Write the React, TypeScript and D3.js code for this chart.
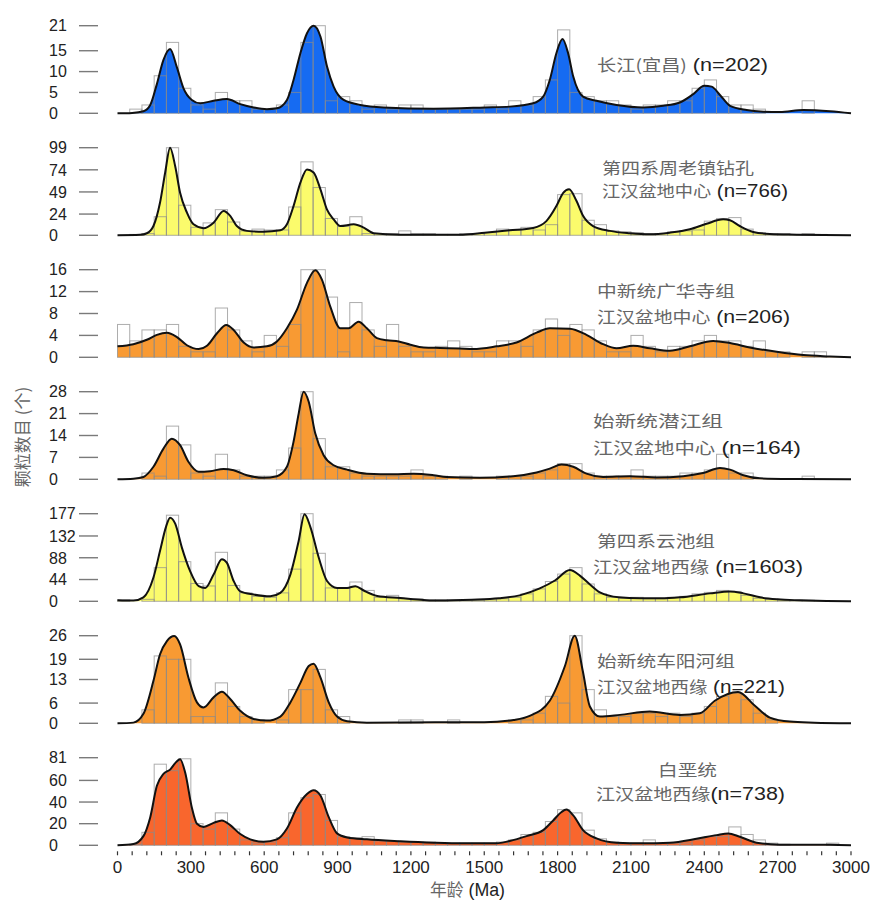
import React from 'react';
import * as d3 from 'd3';

// histogram counts in 50 Ma bins (0-50, 50-100, ... 2950-3000)
const yangtzeBars = [
  0, 1, 2, 9, 17, 6, 2, 1, 5, 3, 3, 1, 1, 2, 5, 17, 21, 3, 4, 3,
  1, 2, 1, 2, 2, 1, 1, 1, 1, 1, 2, 1, 3, 2, 4, 8, 20, 5, 4, 3,
  3, 2, 1, 2, 2, 3, 3, 6, 8, 4, 2, 2, 1, 0, 0, 0, 3, 0, 0, 0,
];
const zhoulaoBars = [
  0, 1, 2, 21, 99, 34, 9, 14, 29, 15, 5, 7, 6, 6, 32, 83, 54, 19, 10, 21,
  2, 2, 2, 5, 2, 2, 1, 1, 2, 2, 3, 7, 6, 9, 6, 12, 46, 47, 17, 12,
  5, 4, 3, 2, 2, 4, 5, 6, 16, 19, 20, 7, 3, 2, 2, 1, 2, 1, 0, 0,
];
const guanghuaBars = [
  6, 3, 5, 5, 6, 2, 1, 1, 9, 5, 3, 1, 4, 2, 6, 16, 16, 11, 1, 10,
  5, 2, 6, 2, 1, 1, 2, 3, 2, 1, 1, 3, 3, 2, 5, 7, 4, 6, 5, 3,
  1, 1, 4, 2, 1, 2, 2, 3, 4, 3, 3, 2, 3, 1, 1, 0, 1, 1, 0, 0,
];
const qianjiangBars = [
  0, 0, 2, 1, 17, 11, 2, 1, 8, 3, 1, 1, 1, 3, 10, 28, 13, 4, 4, 2,
  1, 1, 1, 1, 3, 1, 1, 0, 1, 0, 0, 1, 1, 1, 2, 3, 5, 5, 2, 1,
  1, 1, 3, 1, 1, 1, 2, 2, 3, 8, 2, 2, 0, 0, 0, 0, 1, 0, 0, 0,
];
const yunchiBars = [
  3, 0, 4, 68, 174, 80, 36, 31, 99, 32, 17, 10, 8, 17, 65, 177, 97, 27, 26, 39,
  22, 8, 12, 5, 5, 3, 3, 3, 2, 2, 3, 5, 8, 15, 25, 40, 55, 68, 35, 15,
  8, 6, 8, 5, 5, 8, 10, 15, 18, 22, 20, 12, 6, 4, 3, 2, 2, 1, 0, 0,
];
const cheyangheBars = [
  0, 0, 4, 20, 19, 19, 2, 2, 12, 5, 2, 1, 0, 1, 10, 10, 16, 4, 2, 0,
  0, 0, 0, 1, 1, 0, 0, 1, 0, 0, 0, 0, 1, 1, 3, 8, 6, 26, 10, 4,
  2, 2, 3, 3, 2, 3, 2, 3, 5, 8, 9, 7, 3, 1, 0, 0, 0, 0, 0, 0,
];
const cretaceousBars = [
  0, 1, 12, 75, 69, 80, 20, 15, 30, 15, 5, 2, 3, 7, 30, 44, 47, 23, 8, 7,
  8, 4, 4, 3, 3, 3, 2, 2, 2, 2, 2, 3, 5, 10, 12, 22, 33, 30, 14, 6,
  3, 2, 2, 5, 2, 2, 2, 5, 8, 8, 17, 10, 5, 2, 1, 0, 0, 0, 2, 0,
];

// density curves: [age Ma, count]
const yangtzeCurve = [
  [0, 0], [60, 0.1], [106, 0.5], [134, 2], [161, 7], [188, 12.8], [215, 15.4], [243, 11],
  [270, 6], [304, 3.2], [338, 2.4], [393, 3], [447, 3.4], [502, 2.2], [557, 1.4], [611, 1],
  [652, 1.2], [693, 3.2], [720, 8], [748, 14.4], [775, 19.2], [802, 21], [830, 18.4],
  [857, 11.2], [884, 6.4], [925, 3.2], [993, 2], [1088, 1.4], [1293, 1.1], [1502, 1.4],
  [1604, 1.6], [1700, 2.4], [1741, 4], [1768, 8], [1795, 14.4], [1820, 17.8], [1843, 14.4],
  [1864, 8.8], [1904, 4], [1959, 3], [2041, 2], [2150, 1.4], [2232, 1.8], [2300, 2.6],
  [2355, 4.6], [2400, 6.6], [2430, 6.4], [2464, 4.4], [2505, 1.8], [2573, 0.8], [2641, 0.4],
  [2709, 0.3], [2805, 0.8], [2914, 0.5], [3000, 0],
];
const zhoulaoCurve = [
  [0, 0], [93, 0.5], [120, 2.3], [147, 10.5], [174, 37], [195, 71], [215, 99], [236, 78],
  [256, 48], [284, 25.6], [311, 12.4], [352, 8], [393, 14.3], [434, 27.5], [461, 22],
  [488, 10.5], [529, 5], [597, 4], [666, 5.6], [693, 12.4], [720, 33], [748, 59.5],
  [775, 74.5], [802, 71], [830, 52], [857, 29], [884, 18], [911, 10.5], [966, 12.4],
  [1007, 8.7], [1048, 2.3], [1157, 0.75], [1293, 0.5], [1413, 0.75], [1502, 3], [1604, 5.6],
  [1700, 8.3], [1754, 16], [1795, 33], [1823, 48], [1847, 52], [1877, 39], [1904, 22],
  [1945, 10.5], [2014, 5], [2096, 2.3], [2177, 1.1], [2259, 3], [2341, 6.8], [2409, 13],
  [2477, 18], [2505, 17], [2545, 10.5], [2600, 3.8], [2668, 1.5], [2777, 0.75], [3000, 0],
];
const guanghuaCurve = [
  [0, 2], [65, 2.4], [120, 3.2], [161, 4.1], [202, 4.5], [243, 3.7], [284, 2.2], [332, 1.5],
  [366, 2.1], [407, 4.4], [445, 5.9], [475, 5], [516, 2.7], [557, 1.8], [611, 2], [652, 2.9],
  [693, 5.3], [734, 8.7], [775, 13.6], [809, 15.9], [836, 14.2], [870, 9.3], [911, 5.3],
  [945, 5.3], [986, 6.5], [1020, 5.3], [1061, 3.5], [1102, 3.1], [1150, 2.9], [1198, 2.3],
  [1252, 1.8], [1320, 1.7], [1400, 1.6], [1454, 1.5], [1550, 2], [1632, 2.7], [1714, 4.5],
  [1768, 5.3], [1850, 5.2], [1918, 4.1], [1986, 2.4], [2041, 1.65], [2109, 2.1], [2177, 1.65],
  [2259, 1.2], [2341, 2], [2436, 3], [2505, 2.6], [2586, 1.8], [2696, 1], [2805, 0.4],
  [2914, 0.15], [3000, 0],
];
const qianjiangCurve = [
  [0, 0], [65, 0.2], [106, 0.75], [147, 4], [188, 9.8], [222, 13], [256, 10.9], [290, 5.6],
  [332, 2.4], [379, 2.6], [434, 3.3], [475, 2.9], [529, 1.3], [597, 0.5], [652, 1], [693, 4],
  [720, 12], [741, 21], [761, 28], [782, 24.8], [809, 14.6], [843, 7.7], [884, 4.5],
  [939, 3.1], [1020, 1.8], [1130, 1.6], [1211, 1.8], [1293, 1.3], [1345, 0.75], [1482, 0.5],
  [1618, 1], [1714, 2.2], [1768, 3.4], [1816, 4.7], [1864, 4], [1918, 1.8], [1986, 0.75],
  [2096, 1], [2205, 0.6], [2314, 1], [2395, 2], [2464, 3.6], [2505, 3.1], [2560, 1.3],
  [2627, 0.3], [2777, 0.1], [3000, 0],
];
const yunchiCurve = [
  [0, 2], [65, 1.4], [106, 8], [147, 48], [174, 102], [198, 150], [215, 169], [236, 157],
  [263, 109], [297, 61], [332, 30.6], [359, 27], [393, 54], [427, 85], [447, 78], [475, 41],
  [502, 20], [557, 13.6], [625, 10], [666, 17], [707, 54], [741, 122], [765, 176], [789, 150],
  [823, 88.5], [857, 41], [898, 27], [939, 27], [973, 30.6], [1007, 21.8], [1062, 10.9],
  [1157, 6.8], [1252, 2.7], [1307, 1.4], [1450, 3], [1560, 6], [1645, 12], [1727, 26],
  [1789, 42], [1850, 63], [1891, 52], [1930, 35], [1973, 18], [2050, 8], [2137, 6],
  [2220, 6], [2300, 8], [2423, 16], [2505, 20], [2560, 16], [2628, 8], [2700, 4], [2791, 2],
  [2900, 0.5], [3000, 0],
];
const cheyangheCurve = [
  [0, 0], [65, 0.2], [106, 2.8], [147, 12.6], [174, 20.5], [202, 24.4], [232, 25.9],
  [256, 23.4], [290, 13.6], [325, 6.2], [352, 4.7], [393, 7.7], [427, 9.4], [461, 7.2],
  [502, 3.7], [557, 1.3], [611, 0.8], [666, 2], [707, 6.2], [748, 12], [782, 17], [802, 17.7],
  [830, 13.6], [864, 6.2], [898, 2], [939, 0.6], [1020, 0.2], [1300, 0.3], [1500, 0.3],
  [1620, 1], [1686, 2.2], [1768, 6.7], [1830, 17], [1870, 26], [1903, 15.5], [1932, 5],
  [1973, 2], [2055, 2.5], [2177, 3.5], [2300, 2.5], [2382, 3], [2443, 6.7], [2538, 9.3],
  [2607, 5.2], [2668, 1.7], [2750, 0.5], [2850, 0.2], [3000, 0],
];
const cretaceousCurve = [
  [0, 0], [65, 1.2], [106, 8.5], [134, 26], [161, 55], [188, 66], [215, 70], [236, 76],
  [256, 79.5], [277, 67], [304, 35], [325, 20], [352, 17], [393, 20.7], [427, 23], [461, 18.6],
  [502, 10.4], [543, 5.5], [597, 3.3], [652, 5.5], [693, 15.5], [734, 35], [775, 47.5],
  [802, 51], [830, 46], [864, 26], [898, 11], [939, 7.3], [1020, 5.5], [1157, 3.7],
  [1293, 2.4], [1413, 1.8], [1550, 1.8], [1604, 4], [1673, 8.5], [1741, 14], [1782, 23],
  [1816, 30.8], [1836, 33], [1864, 27.7], [1904, 14], [1959, 6.4], [2041, 2.4], [2150, 1.8],
  [2259, 2.4], [2368, 6], [2450, 9.4], [2498, 11], [2545, 7.9], [2614, 2.4], [2709, 0.6],
  [2914, 0.6], [3000, 0],
];

// y-axis tick labels of each panel (last one = panel maximum)
const yangtzeTicks = [0, 5, 10, 15, 21];
const zhoulaoTicks = [0, 24, 49, 74, 99];
const guanghuaTicks = [0, 4, 8, 12, 16];
const qianjiangTicks = [0, 7, 14, 21, 28];
const yunchiTicks = [0, 44, 88, 132, 177];
const cheyangheTicks = [0, 6, 13, 19, 26];
const cretaceousTicks = [0, 20, 40, 60, 81];

// sample labels: [chinese, latin] per line
const yangtzeLabel = [['长江(宜昌)', ' (n=202)']];
const zhoulaoLabel = [['第四系周老镇钻孔', ''], ['江汉盆地中心', ' (n=766)']];
const guanghuaLabel = [['中新统广华寺组', ''], ['江汉盆地中心', ' (n=206)']];
const qianjiangLabel = [['始新统潜江组', ''], ['江汉盆地中心', ' (n=164)']];
const yunchiLabel = [['第四系云池组', ''], ['江汉盆地西缘', ' (n=1603)']];
const cheyangheLabel = [['始新统车阳河组', ''], ['江汉盆地西缘', ' (n=221)']];
const cretaceousLabel = [['白垩统', ''], ['江汉盆地西缘', '(n=738)']];

const xTickLabels = [0, 300, 600, 900, 1200, 1500, 1800, 2100, 2400, 2700, 3000];

const BLUE = '#166bf2';
const YELLOW = '#fbfb6c';
const ORANGE = '#f89a33';
const RED = '#f9662d';

// label placement: [x, baseline offset above panel base, width] per line
const panels = [
  { bars: yangtzeBars, curve: yangtzeCurve, ticks: yangtzeTicks, fill: BLUE, label: yangtzeLabel,
    pos: [[597, -42, 171]] },
  { bars: zhoulaoBars, curve: zhoulaoCurve, ticks: zhoulaoTicks, fill: YELLOW, label: zhoulaoLabel,
    pos: [[602, -61, 152], [602, -38, 186]] },
  { bars: guanghuaBars, curve: guanghuaCurve, ticks: guanghuaTicks, fill: ORANGE, label: guanghuaLabel,
    pos: [[597, -60, 138], [597, -34, 193]] },
  { bars: qianjiangBars, curve: qianjiangCurve, ticks: qianjiangTicks, fill: ORANGE, label: qianjiangLabel,
    pos: [[593, -52, 130], [593, -25, 208]] },
  { bars: yunchiBars, curve: yunchiCurve, ticks: yunchiTicks, fill: YELLOW, label: yunchiLabel,
    pos: [[597, -54, 118], [593, -28, 210]] },
  { bars: cheyangheBars, curve: cheyangheCurve, ticks: cheyangheTicks, fill: ORANGE, label: cheyangheLabel,
    pos: [[597, -56, 138], [597, -30, 188]] },
  { bars: cretaceousBars, curve: cretaceousCurve, ticks: cretaceousTicks, fill: RED, label: cretaceousLabel,
    pos: [[658, -69, 59], [596, -45, 189]] },
];

const W = 870;
const H = 900;
const BIN = 50;
const BASE0 = 113.3;
const STEP = 122;
const PANEL_H = 87.6;

const CJK = '"Noto Sans CJK SC", sans-serif';
const LATIN = '"Liberation Sans", Arial, sans-serif';

const x = d3.scaleLinear().domain([0, 3000]).range([117.5, 851]);

export default function App() {
  const minorTicks = d3.range(0, 3001, 60);
  const axisY = BASE0 + STEP * 6;

  return (
    <svg width={W} height={H} style={{ position: 'absolute', left: 0, top: 0, background: '#fff' }}>
      {panels.map((p, i) => {
        const base = BASE0 + STEP * i;
        const max = p.ticks[p.ticks.length - 1];
        const y = d3.scaleLinear().domain([0, max]).range([base, base - PANEL_H]);
        const area = d3.area<number[]>()
          .x(d => x(d[0]))
          .y0(base)
          .y1(d => y(d[1]))
          .curve(d3.curveMonotoneX);
        const line = d3.line<number[]>()
          .x(d => x(d[0]))
          .y(d => y(d[1]))
          .curve(d3.curveMonotoneX);
        const bw = x(BIN) - x(0);
        return (
          <g key={i}>
            <path d={area(p.curve) || ''} fill={p.fill} />
            {p.bars.map((c, k) => c > 0 && (
              <rect key={k} x={x(k * BIN)} y={y(c)} width={bw} height={base - y(c)}
                fill="none" stroke="#8a8a8a" strokeOpacity={0.7} strokeWidth={1} />
            ))}
            <path d={line(p.curve) || ''} fill="none" stroke="#111" strokeWidth={2} />
            {p.ticks.map(t => (
              <g key={t}>
                <line x1={79} x2={98} y1={y(t)} y2={y(t)} stroke="#7a7a7a" strokeWidth={1.4} />
                <text x={49} y={y(t)} dy="0.36em" fontFamily={LATIN} fontSize={16} fill="#222">{t}</text>
              </g>
            ))}
            {p.label.map((ln, j) => {
              const [lx, ly, lw] = p.pos[j];
              return (
                <text key={j} x={lx} y={base + ly} textLength={lw} lengthAdjust="spacingAndGlyphs">
                  <tspan fontFamily={CJK} fontSize={16} fill="#666">{ln[0]}</tspan>
                  {ln[1] && <tspan fontFamily={LATIN} fontSize={18} fill="#222">{ln[1]}</tspan>}
                </text>
              );
            })}
          </g>
        );
      })}

      {minorTicks.map(a => (
        <line key={a} x1={x(a)} x2={x(a)} y1={axisY + 6} y2={axisY + 10} stroke="#333" strokeWidth={1.2} />
      ))}
      {xTickLabels.map(a => (
        <text key={a} x={x(a)} y={873} textAnchor="middle" fontFamily={LATIN} fontSize={17} fill="#222">{a}</text>
      ))}
      <text x={430} y={896} textLength={75} lengthAdjust="spacingAndGlyphs">
        <tspan fontFamily={CJK} fontSize={17} fill="#666">年龄</tspan>
        <tspan fontFamily={LATIN} fontSize={18} fill="#222"> (Ma)</tspan>
      </text>
      <text transform="translate(29,437) rotate(-90)" textAnchor="middle" fontFamily={CJK} fontSize={17} fill="#666">
        颗粒数目 (个)
      </text>
    </svg>
  );
}
